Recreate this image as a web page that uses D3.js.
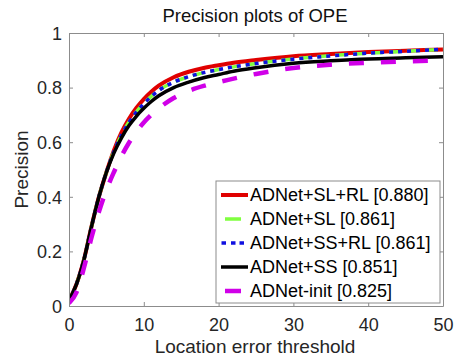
<!DOCTYPE html>
<html>
<head>
<meta charset="utf-8">
<script src="https://cdn.jsdelivr.net/npm/d3@7"></script>
<style>
  html, body { margin: 0; padding: 0; background: #fff; }
  svg { display: block; }
  text { font-family: "Liberation Sans", Arial, sans-serif; }
</style>
</head>
<body>
<svg id="chart" width="456" height="358"></svg>
<script>
const title = "Precision plots of OPE";
const xLabel = "Location error threshold";
const yLabel = "Precision";
const xTicks = [0, 10, 20, 30, 40, 50];
const yTicks = [0, 0.2, 0.4, 0.6, 0.8, 1];
const yTickLabels = ["0", "0.2", "0.4", "0.6", "0.8", "1"];

const thresholds = [0,1,2,3,4,5,6,7,8,9,10,11,12,14,16,18,20,22,25,30,35,40,45,50];

const seriesNames = ["ADNet+SL+RL [0.880]", "ADNet+SL [0.861]", "ADNet+SS+RL [0.861]", "ADNet+SS [0.851]", "ADNet-init [0.825]"];
const slrl   = [0.02,0.08,0.17,0.29,0.40,0.49,0.57,0.635,0.685,0.725,0.758,0.785,0.807,0.838,0.858,0.872,0.882,0.891,0.901,0.915,0.923,0.930,0.935,0.940];
const sl     = [0.02,0.08,0.17,0.29,0.40,0.49,0.565,0.625,0.673,0.711,0.742,0.768,0.79,0.82,0.84,0.855,0.866,0.876,0.888,0.905,0.917,0.926,0.933,0.940];
const ssrl   = [0.02,0.08,0.17,0.29,0.40,0.49,0.565,0.625,0.672,0.710,0.741,0.767,0.789,0.82,0.84,0.855,0.866,0.876,0.888,0.904,0.916,0.926,0.933,0.941];
const ss     = [0.02,0.08,0.17,0.29,0.40,0.49,0.56,0.615,0.66,0.695,0.724,0.749,0.77,0.80,0.82,0.836,0.848,0.86,0.873,0.889,0.898,0.905,0.909,0.913];
const init   = [0.01,0.05,0.14,0.25,0.345,0.425,0.49,0.548,0.597,0.638,0.672,0.70,0.724,0.762,0.788,0.806,0.82,0.833,0.85,0.872,0.884,0.891,0.896,0.900];

const seriesValues = [slrl, sl, ssrl, ss, init];
const styles = [
  { color: "#e00000", width: 4,   dash: null,      legDash: null },
  { color: "#80ff40", width: 3.5, dash: "12,6",    legDash: "0,4,16,100" },
  { color: "#1010e0", width: 3.5, dash: "4,5",     legDash: "0,0.5,4.5,5,4.5,4,4.5,100" },
  { color: "#000000", width: 3.5, dash: null,      legDash: null },
  { color: "#d000e8", width: 4.5, dash: "15,17",   legDash: "0,4,16,100" }
];

const svg = d3.select("#chart");
const L = 69, R = 443, T = 33, B = 306;
const x = d3.scaleLinear().domain([0, 50]).range([L, R]);
const y = d3.scaleLinear().domain([0, 1]).range([B, T]);
const axisColor = "#8c8c8c";
const textColor = "#262626";

// curves
const line = d3.line().x(d => x(d[0])).y(d => y(d[1])).curve(d3.curveMonotoneX);
svg.append("clipPath").attr("id", "clip").append("rect")
  .attr("x", L).attr("y", T - 3).attr("width", R - L).attr("height", B - T + 6);
const plot = svg.append("g").attr("clip-path", "url(#clip)");
seriesValues.forEach((vals, k) => {
  const pts = thresholds.map((t, i) => [t, vals[i]]);
  plot.append("path").datum(pts)
    .attr("d", line)
    .attr("fill", "none")
    .attr("stroke", styles[k].color)
    .attr("stroke-width", styles[k].width)
    .attr("stroke-dasharray", styles[k].dash)
    .attr("stroke-linejoin", "round");
});

// axes (box with inside ticks)
const tl = 4;
const gB = svg.append("g").attr("transform", `translate(0,${B})`)
  .call(d3.axisBottom(x).tickValues(xTicks).tickSizeInner(-tl).tickSizeOuter(0));
const gT = svg.append("g").attr("transform", `translate(0,${T})`)
  .call(d3.axisTop(x).tickValues(xTicks).tickSizeInner(-tl).tickSizeOuter(0).tickFormat(""));
const gL = svg.append("g").attr("transform", `translate(${L},0)`)
  .call(d3.axisLeft(y).tickValues(yTicks).tickSizeInner(-tl).tickSizeOuter(0)
    .tickFormat((d, i) => yTickLabels[i]));
const gR = svg.append("g").attr("transform", `translate(${R},0)`)
  .call(d3.axisRight(y).tickValues(yTicks).tickSizeInner(-tl).tickSizeOuter(0).tickFormat(""));
[gB, gT, gL, gR].forEach(g => {
  g.selectAll(".domain").attr("stroke", axisColor).attr("stroke-width", 1);
  g.selectAll(".tick line").attr("stroke", axisColor);
  g.selectAll(".tick text").attr("fill", textColor).style("font-size", "18px")
    .style("font-family", "'Liberation Sans', Arial, sans-serif");
});
gB.selectAll(".tick text").attr("y", 12).attr("dy", "0.71em");
gL.selectAll(".tick text").attr("x", -7).attr("dy", "0.35em");

// titles
svg.append("text").attr("x", 255).attr("y", 22).attr("text-anchor", "middle")
  .attr("fill", "#111").style("font-size", "18.5px").text(title);
svg.append("text").attr("x", 255).attr("y", 353).attr("text-anchor", "middle")
  .attr("fill", textColor).style("font-size", "19px").text(xLabel);
svg.append("text").attr("transform", `translate(28,${(T + B) / 2}) rotate(-90)`)
  .attr("text-anchor", "middle").attr("fill", textColor).style("font-size", "19px").text(yLabel);

// legend
const lg = svg.append("g");
const lx = 216, ly = 181, lw = 224, lh = 122;
lg.append("rect").attr("x", lx).attr("y", ly).attr("width", lw).attr("height", lh)
  .attr("fill", "#fff").attr("stroke", axisColor).attr("stroke-width", 1);
seriesNames.forEach((name, k) => {
  const yy = 195 + k * 24;
  lg.append("line").attr("x1", 221).attr("x2", 248).attr("y1", yy).attr("y2", yy)
    .attr("stroke", styles[k].color).attr("stroke-width", styles[k].width)
    .attr("stroke-dasharray", styles[k].legDash);
  lg.append("text").attr("x", 250).attr("y", yy).attr("dy", "0.35em")
    .attr("fill", "#000").style("font-size", "18px").text(name);
});
</script>
</body>
</html>
